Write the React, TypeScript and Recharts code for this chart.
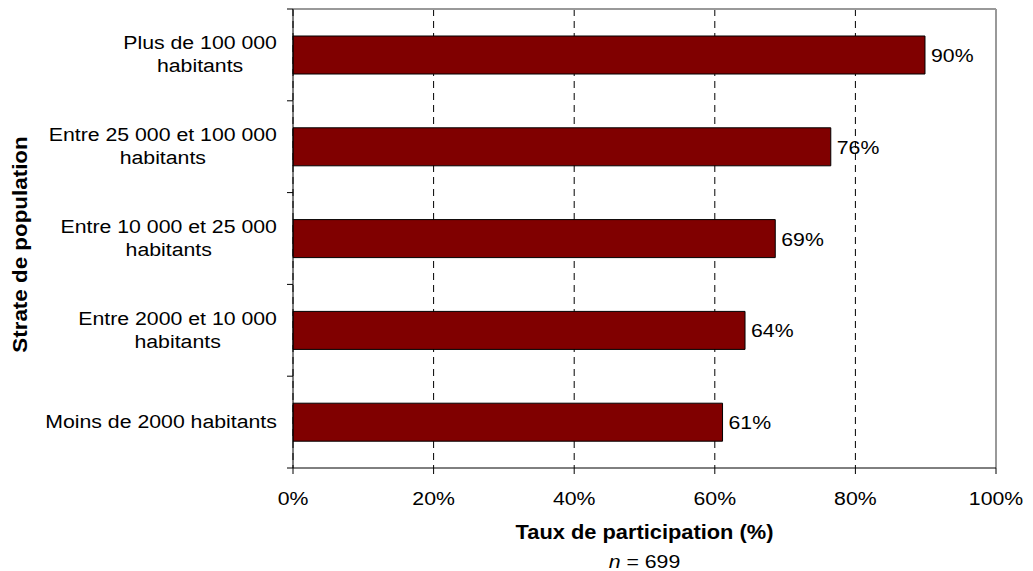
import React from "react";
import {
  Bar,
  BarChart,
  CartesianGrid,
  LabelList,
  ReferenceLine,
  XAxis,
  YAxis,
} from "recharts";

// categories, top to bottom (each entry = label lines)
const strataLines: string[][] = [
  ["Plus de 100 000", "habitants"],
  ["Entre 25 000 et 100 000", "habitants"],
  ["Entre 10 000 et 25 000", "habitants"],
  ["Entre 2000 et 10 000", "habitants"],
  ["Moins de 2000 habitants"],
];
const participation = [89.9, 76.5, 68.6, 64.3, 61.1];
const participationLabels = ["90%", "76%", "69%", "64%", "61%"];
const xTicks = [0, 20, 40, 60, 80, 100];

const strata = strataLines.map((l) => l.join(" "));
const data = strata.map((s, i) => ({ strate: s, taux: participation[i], label: participationLabels[i] }));

const FONT = '"Liberation Sans", Arial, sans-serif';
const FS = 19;
const SX = 1.12; // text in the original renders wider than Arial

let measureCtx: CanvasRenderingContext2D | null = null;
function textWidth(s: string, size = FS, bold = false) {
  if (!measureCtx) measureCtx = document.createElement("canvas").getContext("2d");
  if (!measureCtx) return s.length * size * 0.55 * SX;
  measureCtx.font = `${bold ? "bold " : ""}${size}px "Liberation Sans"`;
  return measureCtx.measureText(s).width * SX;
}

function SText({ x, y, anchor = "start", size = FS, bold = false, rotate = 0, children }: any) {
  const rot = rotate ? ` rotate(${rotate})` : "";
  return (
    <text
      x={0}
      y={0}
      transform={`translate(${x} ${y})${rot} scale(${SX} 1)`}
      textAnchor={anchor}
      fontSize={size}
      fontWeight={bold ? "bold" : "normal"}
      fontFamily={FONT}
      fill="#000"
    >
      {children}
    </text>
  );
}

const TICK_SIZE = 6;
const TICK_MARGIN = 8;

function StrataTick(props: any) {
  const { x, y, payload, index } = props;
  const axisX = x + TICK_SIZE + TICK_MARGIN;
  const half = payload && typeof payload.offset === "number" && payload.offset > 0 ? payload.offset : 45.9;
  const lines = strataLines[strata.indexOf(payload.value)] || [String(payload.value)];
  const widest = Math.max(...lines.map((l) => textWidth(l)));
  const cx = axisX - 16 - widest / 2;
  const lh = 23;
  const first = y + 7 - ((lines.length - 1) * lh) / 2 - 1;
  return (
    <g>
      <line x1={axisX - TICK_SIZE} x2={axisX} y1={y - half} y2={y - half} stroke="#000" />
      {index === strata.length - 1 && (
        <line x1={axisX - TICK_SIZE} x2={axisX} y1={y + half} y2={y + half} stroke="#000" />
      )}
      {lines.map((l, i) => (
        <SText key={i} x={cx} y={first + i * lh} anchor="middle">
          {l}
        </SText>
      ))}
    </g>
  );
}

function PctTick(props: any) {
  const { x, y, payload } = props;
  return (
    <SText x={x} y={y + 23} anchor="middle">
      {`${payload.value}%`}
    </SText>
  );
}

function XTitle(props: any) {
  const vb = props.viewBox || { x: 293, y: 468, width: 703 };
  const cx = vb.x + vb.width / 2;
  return (
    <g>
      <SText x={cx} y={vb.y + 71} anchor="middle" size={19.5} bold>
        Taux de participation (%)
      </SText>
      <SText x={cx} y={vb.y + 100} anchor="middle">
        <tspan fontStyle="italic">n</tspan> = 699
      </SText>
    </g>
  );
}

function YTitle(props: any) {
  const vb = props.viewBox || { x: 0, y: 9, width: 293, height: 459 };
  return (
    <SText x={27} y={vb.y + vb.height / 2 + 6} anchor="middle" size={20} bold rotate={-90}>
      Strate de population
    </SText>
  );
}

function ValueLabel(props: any) {
  const { x, y, width, height, index } = props;
  return (
    <SText x={x + width + 6} y={y + height / 2 + 7}>
      {participationLabels[index]}
    </SText>
  );
}

export default function App() {
  return (
    <div style={{ position: "absolute", left: 0, top: 0, width: 1033, height: 571, background: "#fff" }}>
      <BarChart
        width={1033}
        height={571}
        data={data}
        layout="vertical"
        margin={{ top: 9, right: 37, bottom: 0, left: 0 }}
      >
        <CartesianGrid horizontal={false} stroke="#000" strokeDasharray="7 5" />
        <XAxis
          type="number"
          domain={[0, 100]}
          ticks={xTicks}
          interval={0}
          height={103}
          axisLine={{ stroke: "#000" }}
          tickLine={{ stroke: "#000" }}
          tickSize={TICK_SIZE}
          tickMargin={TICK_MARGIN}
          tick={<PctTick />}
          label={<XTitle />}
        />
        <YAxis
          type="category"
          dataKey="strate"
          width={293}
          interval={0}
          axisLine={{ stroke: "#000" }}
          tickLine={false}
          tickSize={TICK_SIZE}
          tickMargin={TICK_MARGIN}
          tick={<StrataTick />}
          label={<YTitle />}
        />
        <ReferenceLine x={100} stroke="#999" strokeWidth={2} />
        <ReferenceLine y={strata[0]} position="start" stroke="#999" strokeWidth={2} />
        <Bar dataKey="taux" fill="#800000" stroke="#000" strokeWidth={1} barSize={38} isAnimationActive={false}>
          <LabelList dataKey="label" content={<ValueLabel />} />
        </Bar>
      </BarChart>
    </div>
  );
}
